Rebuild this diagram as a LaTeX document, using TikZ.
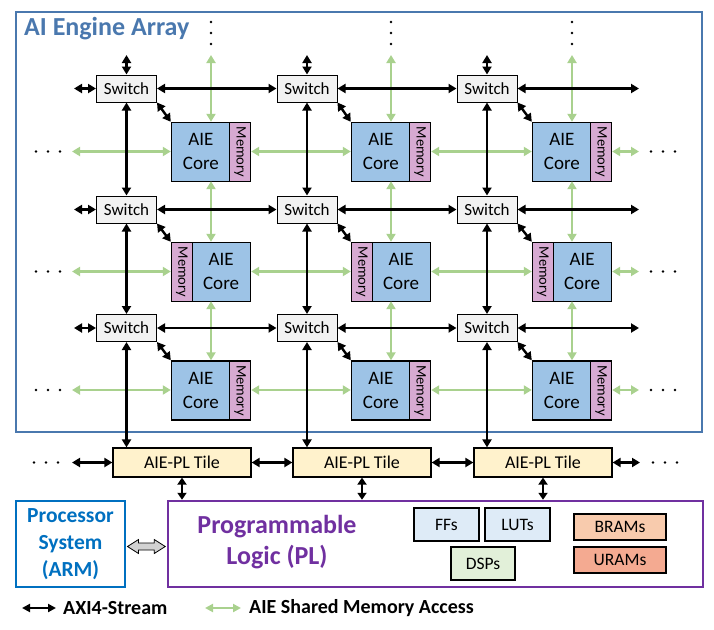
\documentclass[tikz,border=0pt]{standalone}
\usepackage{fontspec}
\setmainfont{Carlito}
\usetikzlibrary{arrows.meta,calc}
\definecolor{arrayblue}{RGB}{74,120,174}
\definecolor{psblue}{RGB}{0,112,192}
\definecolor{plpurple}{RGB}{112,48,160}
\definecolor{greenarr}{RGB}{169,209,142}
\definecolor{corefill}{RGB}{157,195,230}
\definecolor{memfill}{RGB}{215,170,210}
\definecolor{swfill}{RGB}{242,242,242}
\definecolor{tilefill}{RGB}{255,242,204}
\definecolor{fffill}{RGB}{222,235,247}
\definecolor{dspfill}{RGB}{226,240,217}
\definecolor{bramfill}{RGB}{248,203,173}
\definecolor{uramfill}{RGB}{244,170,145}
\newcommand{\fs}[1]{\fontsize{#1pt}{#1pt}\selectfont}
\tikzset{
  swbox/.style={draw=black, line width=1pt, fill=swfill, minimum width=60pt, minimum height=27pt, inner sep=0pt, font=\fs{17}},
  tilebox/.style={minimum width=80pt, minimum height=59pt, inner sep=0pt},
  corebox/.style={draw=black, line width=1.2pt, fill=corefill, minimum width=59pt, minimum height=59pt, inner sep=0pt, align=center, font=\fontsize{19pt}{24pt}\selectfont},
  membox/.style={draw=black, line width=1.2pt, fill=memfill, minimum width=21pt, minimum height=59pt, inner sep=0pt},
  memtext/.style={rotate=-90, inner sep=0pt, font=\fs{14.5}},
  pltile/.style={draw=black, line width=1.2pt, fill=tilefill, minimum width=138pt, minimum height=29pt, inner sep=0pt, font=\fs{18}},
  resbox/.style={draw=black, line width=1.2pt, inner sep=0pt, font=\fs{17.5}},
  blk/.style={line width=2.4pt, {Triangle[length=8pt,width=9pt]}-{Triangle[length=8pt,width=9pt]}},
  grn/.style={draw=greenarr, line width=2.3pt, {Triangle[length=8pt,width=9pt]}-{Triangle[length=8pt,width=9pt]}},
}
\newcommand{\aietileR}[3]{%
  \node[tilebox] (#1) at (#2,#3) {};
  \node[corebox, anchor=north west] (#1c) at (#1.north west) {AIE\\Core};
  \node[membox, anchor=north east] (#1m) at (#1.north east) {};
  \node[memtext] (#1t) at (#1m.center) {Memory};
}
\newcommand{\aietileL}[3]{%
  \node[tilebox] (#1) at (#2,#3) {};
  \node[corebox, anchor=north east] (#1c) at (#1.north east) {AIE\\Core};
  \node[membox, anchor=north west] (#1m) at (#1.north west) {};
  \node[memtext] (#1t) at (#1m.center) {Memory};
}
\begin{document}
\begin{tikzpicture}[x=1pt,y=-1pt]
\useasboundingbox (0,0) rectangle (714,629);
% array frame
\draw[arrayblue, line width=2pt] (16,12) rectangle (702,432);
\node[anchor=west, inner sep=0pt, text=arrayblue, font=\bfseries\fs{26}] (title) at (24,29) {AI Engine Array};

% switches
\foreach \r/\y in {1/88.5,2/209.5,3/328}{
  \foreach \c/\x in {1/126.5,2/307,3/487}{
    \node[swbox] (sw\r\c) at (\x,\y) {Switch};
  }
}
% tiles
\aietileR{t11}{211}{151.5}
\aietileR{t12}{391}{151.5}
\aietileR{t13}{572}{151.5}
\aietileL{t21}{211}{271.5}
\aietileL{t22}{391}{271.5}
\aietileL{t23}{572}{271.5}
\aietileR{t31}{211}{390}
\aietileR{t32}{391}{390}
\aietileR{t33}{572}{390}

% PL tiles
\node[pltile] (pt1) at (182,462.5) {AIE-PL Tile};
\node[pltile] (pt2) at (362,462.5) {AIE-PL Tile};
\node[pltile] (pt3) at (543,462.5) {AIE-PL Tile};

% green shared memory arrows
\foreach \c/\x in {1/211,2/391,3/572}{
  \coordinate (gt\c) at (\x,55);
  \draw[grn] (t1\c.north) -- (gt\c);
  \draw[grn] (t1\c.south) -- (t2\c.north);
  \draw[grn] (t2\c.south) -- (t3\c.north);
  \foreach \yy in {22,33,44}{ \fill (\x,\yy) circle (1.4pt); }
}
\foreach \r/\y in {1/151.5,2/271.5,3/390}{
  \coordinate (gl\r) at (72,\y);
  \coordinate (gr\r) at (639,\y);
  \draw[grn] (gl\r) -- (t\r1.west);
  \draw[grn] (t\r1.east) -- (t\r2.west);
  \draw[grn] (t\r2.east) -- (t\r3.west);
  \draw[grn] (t\r3.east) -- (gr\r);
  \foreach \xx in {36,48,60,651,663,675}{ \fill (\xx,\y) circle (1.4pt); }
}

% black stream arrows
\foreach \r/\y in {1/88.5,2/209.5,3/328}{
  \coordinate (bl\r) at (74,\y);
  \coordinate (br\r) at (639,\y);
  \draw[blk] (bl\r) -- (sw\r1.west);
  \draw[blk] (sw\r1.east) -- (sw\r2.west);
  \draw[blk] (sw\r2.east) -- (sw\r3.west);
  \draw[blk] (sw\r3.east) -- (br\r);
  \foreach \c in {1,2,3}{
    \draw[blk] (sw\r\c.south east) -- (t\r\c.north west);
  }
}
\foreach \c/\x in {1/126.5,2/307,3/487}{
  \coordinate (bt\c) at (\x,55);
  \draw[blk] (bt\c) -- (sw1\c.north);
  \draw[blk] (sw1\c.south) -- (sw2\c.north);
  \draw[blk] (sw2\c.south) -- (sw3\c.north);
  \draw[blk] (sw3\c.south) -- (sw3\c.south |- pt\c.north);
}

% PL tile row
\coordinate (pl0) at (72,462.5);
\coordinate (pl4) at (640,462.5);
\draw[blk] (pl0) -- (pt1.west);
\draw[blk] (pt1.east) -- (pt2.west);
\draw[blk] (pt2.east) -- (pt3.west);
\draw[blk] (pt3.east) -- (pl4);
\foreach \xx in {34,46,58,653,665,677}{ \fill (\xx,462.5) circle (1.4pt); }

% PS and PL
\node[draw=psblue, line width=2pt, minimum width=109pt, minimum height=86pt, inner sep=0pt, align=center, text=psblue, font=\bfseries\fontsize{21.5pt}{27pt}\selectfont] (ps) at (70.5,544) {Processor\\System\\(ARM)};
\node[draw=plpurple, line width=2.5pt, minimum width=535pt, minimum height=86pt, inner sep=0pt] (pl) at (435.5,544) {};
\node[inner sep=0pt, align=center, text=plpurple, font=\bfseries\fontsize{26pt}{31pt}\selectfont] (pltext) at (277,542.5) {Programmable\\Logic (PL)};

\foreach \c in {1,2,3}{
  \draw[line width=2.4pt, {Triangle[length=7pt,width=9pt]}-{Triangle[length=7pt,width=9pt]}] (pt\c.south) -- (pt\c.south |- pl.north);
}

% resources
\node[resbox, fill=fffill, minimum width=65pt, minimum height=33pt] (ff) at (446.5,524.5) {FFs};
\node[resbox, fill=fffill, minimum width=65pt, minimum height=33pt] (lut) at (517.5,524.5) {LUTs};
\node[resbox, fill=dspfill, minimum width=64pt, minimum height=33pt] (dsp) at (483,563.5) {DSPs};
\node[resbox, fill=bramfill, minimum width=92pt, minimum height=26pt] (bram) at (620,527) {BRAMs};
\node[resbox, fill=uramfill, minimum width=92pt, minimum height=26pt] (uram) at (620,560) {URAMs};

% fat arrow PS <-> PL
\coordinate (fa) at ($(ps.east)+(1.5,2.5)$);
\coordinate (fb) at ($(pl.west)+(-1.5,2.5)$);
\draw[black, line width=0.8pt, fill=gray!35] (fa) -- ($(fa)+(11,-7)$) -- ($(fa)+(11,-3.5)$) -- ($(fb)+(-11,-3.5)$) -- ($(fb)+(-11,-7)$) -- (fb) -- ($(fb)+(-11,7)$) -- ($(fb)+(-11,3.5)$) -- ($(fa)+(11,3.5)$) -- ($(fa)+(11,7)$) -- cycle;

% legend
\coordinate (la) at (22,608);
\coordinate (lb) at (56,608);
\draw[line width=2.2pt, {Triangle[length=8pt,width=8pt]}-{Triangle[length=8pt,width=8pt]}] (la) -- (lb);
\node[anchor=west, inner sep=0pt, font=\bfseries\fs{20}] (lt1) at (63,608) {AXI4-Stream};
\coordinate (lc) at (205,608);
\coordinate (ld) at (241,608);
\draw[draw=greenarr, line width=2.2pt, {Triangle[length=8pt,width=8pt]}-{Triangle[length=8pt,width=8pt]}] (lc) -- (ld);
\node[anchor=west, inner sep=0pt, font=\bfseries\fs{20}] (lt2) at (249,608) {AIE Shared Memory Access};
\end{tikzpicture}
\end{document}
